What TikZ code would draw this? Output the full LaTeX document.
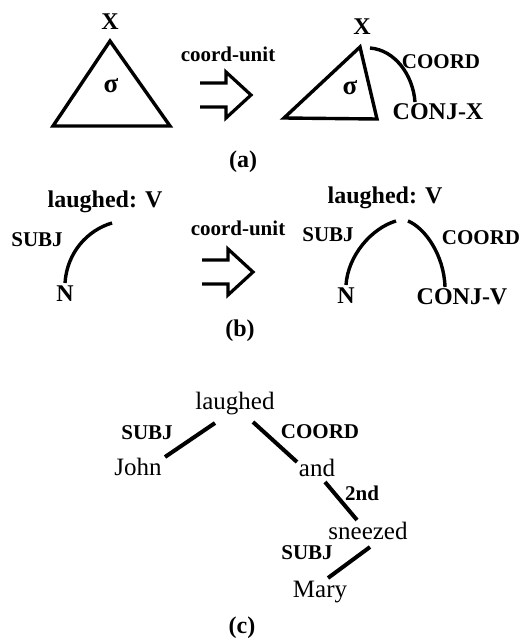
\documentclass[tikz,border=0pt]{standalone}
\usepackage{fontspec}
\setmainfont{Liberation Serif}
\begin{document}
\begin{tikzpicture}[x=1pt,y=-1pt,
  nd/.style={inner sep=0pt,font=\fontsize{24}{24}\selectfont\bfseries},
  lb/.style={inner sep=0pt,font=\fontsize{21}{21}\selectfont\bfseries},
  rn/.style={inner sep=0pt,font=\fontsize{25}{25}\selectfont},
  sg/.style={inner sep=0pt,font=\fontsize{27}{27}\selectfont\bfseries},
  ln/.style={line width=3.4pt},
  tl/.style={line width=4pt},
  harrow/.style={line width=3.2pt,line join=miter}
]
\useasboundingbox (0,0) rectangle (530,642);

% ---------- (a) ----------
\node[nd] (Xl) at (110,22) {X};
\draw[ln,line join=miter] (110,41) -- (53,126) -- (170,126) -- cycle;
\node[sg] (sgl) at (111,86) {σ};
\node[lb] (cua) at (228,54) {coord-unit};
\draw[harrow] (200,83) -- (226,83) -- (226,72) -- (251,95) -- (226,118) -- (226,107) -- (200,107);
\node[nd] (Xr) at (362,27) {X};
\draw[ln,line join=miter] (360,47) -- (284,118) -- (377,119) -- cycle;
\node[sg] (sgr) at (350,88) {σ};
\coordinate (ca1) at (370,48);
\coordinate (ca2) at (415,102);
\draw[ln] (ca1) .. controls (395,50) and (413,75) .. (ca2);
\node[lb] (coa) at (441,62) {COORD};
\node[nd] (cjx) at (438,112) {CONJ-X};
\node[nd] (la) at (243,162) {(a)};

% ---------- (b) ----------
\node[nd] (lvl) at (105,202) {laughed: V};
\node[lb] (sbl) at (37,240) {SUBJ};
\coordinate (bl1) at (112,223);
\coordinate (bl2) at (65,283);
\draw[ln] (bl1) .. controls (88,230) and (67,252) .. (bl2);
\node[nd] (Nl) at (65,294) {N};
\node[lb] (cub) at (238,228) {coord-unit};
\draw[harrow] (202,260) -- (228,260) -- (228,249) -- (253,272) -- (228,295) -- (228,284) -- (202,284);
\node[nd] (lvr) at (385,198) {laughed: V};
\node[lb] (sbr) at (328,235) {SUBJ};
\node[lb] (cob) at (481,238) {COORD};
\coordinate (br1) at (396,221);
\coordinate (br2) at (346,285);
\coordinate (br3) at (408,221);
\coordinate (br4) at (445,287);
\draw[ln] (br1) .. controls (372,228) and (348,255) .. (br2);
\draw[ln] (br3) .. controls (425,228) and (444,255) .. (br4);
\node[nd] (Nr) at (346,296) {N};
\node[nd] (cjv) at (462,297) {CONJ-V};
\node[nd] (lbb) at (240,331) {(b)};

% ---------- (c) ----------
\node[rn] (lau) at (235,404) {laughed};
\node[lb] (sbc) at (147,433) {SUBJ};
\node[rn] (joh) at (138,467) {John};
\node[lb] (coc) at (320,432) {COORD};
\node[rn] (and) at (317,468) {and};
\node[lb] (snd) at (362,493) {2nd};
\node[rn] (snz) at (368,531) {sneezed};
\node[lb] (sbc2) at (307,553) {SUBJ};
\node[rn] (mar) at (320,592) {Mary};
\node[nd] (lbc) at (242,628) {(c)};
\coordinate (c1) at (215,423);
\coordinate (c2) at (165,457);
\coordinate (c3) at (253,422);
\coordinate (c4) at (297,462);
\coordinate (c5) at (325,482);
\coordinate (c6) at (357,520);
\coordinate (c7) at (370,547);
\coordinate (c8) at (328,578);
\draw[tl] (c1) -- (c2);
\draw[tl] (c3) -- (c4);
\draw[tl] (c5) -- (c6);
\draw[tl] (c7) -- (c8);
\end{tikzpicture}
\end{document}
